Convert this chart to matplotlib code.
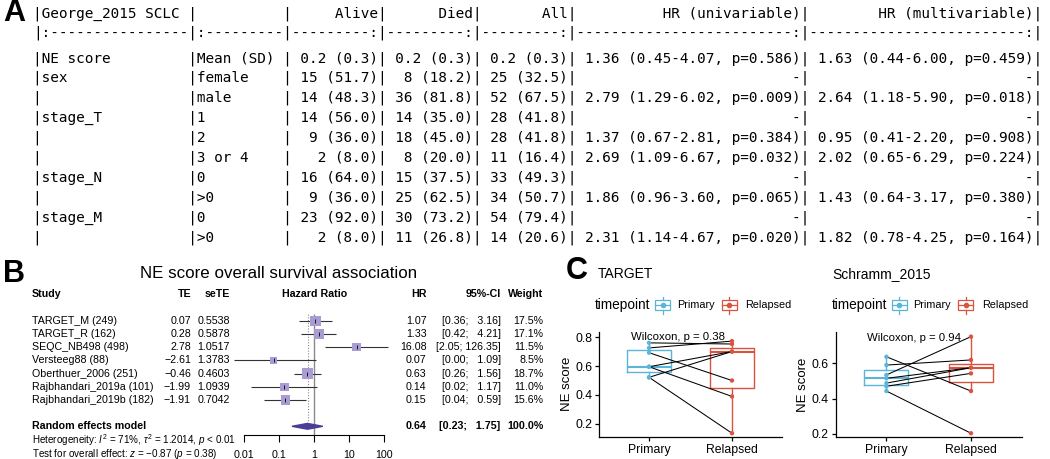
import numpy as np
import matplotlib
matplotlib.use('Agg')
import matplotlib.pyplot as plt
from matplotlib import transforms
from matplotlib.patches import Polygon, Rectangle
from matplotlib.lines import Line2D

plt.rcParams['font.family'] = ['Liberation Sans', 'DejaVu Sans']
plt.rcParams['mathtext.fontset'] = 'custom'
plt.rcParams['mathtext.rm'] = 'Liberation Sans'
plt.rcParams['mathtext.it'] = 'Liberation Sans:italic'
plt.rcParams['mathtext.bf'] = 'Liberation Sans:bold'

# ---------------- data ----------------
# A: survival table (George_2015 SCLC)
table_title = 'George_2015 SCLC'
col_heads = ['Alive', 'Died', 'All', 'HR (univariable)', 'HR (multivariable)']
var_names = ['NE score', 'sex', '', 'stage_T', '', '', 'stage_N', '', 'stage_M', '']
levels = ['Mean (SD)', 'female', 'male', '1', '2', '3 or 4', '0', '>0', '0', '>0']
alive = ['0.2 (0.3)', '15 (51.7)', '14 (48.3)', '14 (56.0)', '9 (36.0)', '2 (8.0)',
         '16 (64.0)', '9 (36.0)', '23 (92.0)', '2 (8.0)']
died = ['0.2 (0.3)', '8 (18.2)', '36 (81.8)', '14 (35.0)', '18 (45.0)', '8 (20.0)',
        '15 (37.5)', '25 (62.5)', '30 (73.2)', '11 (26.8)']
all_pts = ['0.2 (0.3)', '25 (32.5)', '52 (67.5)', '28 (41.8)', '28 (41.8)', '11 (16.4)',
           '33 (49.3)', '34 (50.7)', '54 (79.4)', '14 (20.6)']
hr_uni = ['1.36 (0.45-4.07, p=0.586)', '-', '2.79 (1.29-6.02, p=0.009)', '-',
          '1.37 (0.67-2.81, p=0.384)', '2.69 (1.09-6.67, p=0.032)', '-',
          '1.86 (0.96-3.60, p=0.065)', '-', '2.31 (1.14-4.67, p=0.020)']
hr_multi = ['1.63 (0.44-6.00, p=0.459)', '-', '2.64 (1.18-5.90, p=0.018)', '-',
            '0.95 (0.41-2.20, p=0.908)', '2.02 (0.65-6.29, p=0.224)', '-',
            '1.43 (0.64-3.17, p=0.380)', '-', '1.82 (0.78-4.25, p=0.164)']

# B: meta-analysis forest plot
studies = ['TARGET_M (249)', 'TARGET_R (162)', 'SEQC_NB498 (498)', 'Versteeg88 (88)',
           'Oberthuer_2006 (251)', 'Rajbhandari_2019a (101)', 'Rajbhandari_2019b (182)']
te = [0.07, 0.28, 2.78, -2.61, -0.46, -1.99, -1.91]
se_te = [0.5538, 0.5878, 1.0517, 1.3783, 0.4603, 1.0939, 0.7042]
hr = [1.07, 1.33, 16.08, 0.07, 0.63, 0.14, 0.15]
ci_low = [0.36, 0.42, 2.05, 0.00, 0.26, 0.02, 0.04]
ci_high = [3.16, 4.21, 126.35, 1.09, 1.56, 1.17, 0.59]
weight = [17.5, 17.1, 11.5, 8.5, 18.7, 11.0, 15.6]
pooled_hr, pooled_low, pooled_high = 0.64, 0.23, 1.75
hr_ticks = [0.01, 0.1, 1, 10, 100]

# C: paired NE score, primary vs relapsed
target_primary = [0.76, 0.725, 0.692, 0.595, 0.595, 0.522, 0.522]
target_relapsed = [0.752, 0.772, 0.50, 0.70, 0.39, 0.70, 0.136]
schramm_primary = [0.637, 0.59, 0.534, 0.515, 0.488, 0.47, 0.443]
schramm_relapsed = [0.443, 0.619, 0.751, 0.575, 0.575, 0.543, 0.204]
groups = ['Primary', 'Relapsed']

# ---------------- figure ----------------
W, H = 1050, 459
fig = plt.figure(figsize=(W / 100, H / 100), dpi=100)


def fx(x):
    return x / W


def fy(y):
    return 1 - y / H


# panel letters
for lab, x, y in [('A', 3, 13), ('B', 3, 274), ('C', 566, 271)]:
    fig.text(fx(x), fy(y), lab, fontsize=22, fontweight='bold', va='center', ha='left')

# --- A: markdown style table ---
def md_row(c):
    return ('|' + c[0].ljust(17) + '|' + c[1].ljust(10) + '|' + c[2].rjust(10) + '|'
            + c[3].rjust(10) + '|' + c[4].rjust(10) + '|' + c[5].rjust(26) + '|'
            + c[6].rjust(26) + '|')

lines = [md_row([table_title, ''] + col_heads),
         '|:' + '-' * 16 + '|:' + '-' * 9 + '|' + ('-' * 9 + ':|') * 3 + ('-' * 25 + ':|') * 2]
for i in range(len(levels)):
    lines.append(md_row([var_names[i], levels[i], alive[i], died[i], all_pts[i],
                         hr_uni[i], hr_multi[i]]))

line_y = [14, 33] + [58.3 + 19.9 * k for k in range(len(levels))]
for txt, y in zip(lines, line_y):
    fig.text(fx(33), fy(y), txt, family='DejaVu Sans Mono', fontsize=10.36,
             va='center', ha='left')

# --- B: forest plot ---
fig.text(fx(279), fy(273), 'NE score overall survival association', fontsize=12.2,
         ha='center', va='center')

axf = fig.add_axes([fx(230), fy(434.5), (395 - 230) / W, (434.5 - 300) / H])
axf.set_xscale('log')
axf.set_xlim(0.0039, 202)
axf.set_ylim(8.62, -1.57)
axf.patch.set_alpha(0)

rows = np.arange(len(studies))
te_a, se_a = np.array(te), np.array(se_te)
axf.hlines(rows, np.exp(te_a - 1.96 * se_a), np.exp(te_a + 1.96 * se_a),
           color='#333333', lw=0.8, zorder=2)
side_pt = 10.7 * np.sqrt(np.array(weight) / 18.7) * 0.72
axf.scatter(hr, rows, marker='s', s=side_pt ** 2, color='#A99CD3', edgecolors='none',
            zorder=3)
axf.scatter(hr, rows, marker='|', s=8, color='black', linewidths=0.6, zorder=4)
axf.vlines(1, -0.5, 8.62, color='#8a8a8a', lw=1.0, zorder=1)
axf.vlines(pooled_hr, -0.5, 7.6, color='#8a8a8a', lw=0.8, linestyles=(0, (1, 1.5)), zorder=1)
axf.add_patch(Polygon([(pooled_low, 8), (pooled_hr, 7.78), (pooled_high, 8), (pooled_hr, 8.22)],
                      closed=True, color='#4B3C97', zorder=3))

for s in ['left', 'right', 'top']:
    axf.spines[s].set_visible(False)
axf.spines['bottom'].set_bounds(hr_ticks[0], hr_ticks[-1])
axf.spines['bottom'].set_linewidth(0.8)
axf.set_xticks(hr_ticks)
axf.set_xticklabels([str(t) for t in hr_ticks])
axf.xaxis.set_minor_locator(matplotlib.ticker.NullLocator())
axf.tick_params(axis='x', length=5, width=0.8, pad=6, labelsize=7.7)
axf.set_yticks([])

tr = transforms.blended_transform_factory(fig.transFigure, axf.transData)
fs = 7.7


def minus(s):
    return s.replace('-', '\u2212')

head_row = -2.02
for txt, x, ha in [('Study', 31.7, 'left'), ('TE', 191.5, 'right'), ('seTE', 230, 'right'),
                   ('Hazard Ratio', 315, 'center'), ('HR', 426.7, 'right'),
                   ('95%-CI', 500.7, 'right'), ('Weight', 543.3, 'right')]:
    axf.text(fx(x), head_row, txt, transform=tr, fontsize=fs, fontweight='bold',
             ha=ha, va='center')

for i in range(len(studies)):
    axf.text(fx(31.7), i, studies[i], transform=tr, fontsize=fs, ha='left', va='center')
    axf.text(fx(191), i, minus(f'{te[i]:.2f}'), transform=tr, fontsize=fs, ha='right', va='center')
    axf.text(fx(230), i, f'{se_te[i]:.4f}', transform=tr, fontsize=fs, ha='right', va='center')
    axf.text(fx(426.7), i, f'{hr[i]:.2f}', transform=tr, fontsize=fs, ha='right', va='center')
    axf.text(fx(500.7), i, f'[{ci_low[i]:.2f}; {ci_high[i]:6.2f}]', transform=tr,
             fontsize=fs, ha='right', va='center')
    axf.text(fx(543.3), i, f'{weight[i]:.1f}%', transform=tr, fontsize=fs, ha='right', va='center')

axf.text(fx(31.7), 8, 'Random effects model', transform=tr, fontsize=fs, fontweight='bold',
         ha='left', va='center')
axf.text(fx(426.7), 8, f'{pooled_hr:.2f}', transform=tr, fontsize=fs, fontweight='bold',
         ha='right', va='center')
axf.text(fx(500.7), 8, f'[{pooled_low:.2f}; {pooled_high:6.2f}]', transform=tr, fontsize=fs,
         fontweight='bold', ha='right', va='center')
axf.text(fx(543.3), 8, '100.0%', transform=tr, fontsize=fs, fontweight='bold',
         ha='right', va='center')
axf.text(fx(31.7), 9.08, r'Heterogeneity: $I^2$ = 71%, $\tau^2$ = 1.2014, $p$ < 0.01',
         transform=tr, fontsize=7.1, ha='left', va='center')
axf.text(fx(31.7), 10.1, 'Test for overall effect: $z$ = \u22120.87 ($p$ = 0.38)',
         transform=tr, fontsize=7.1, ha='left', va='center')

# --- C: paired boxplots ---
blue, red = '#5BB5D9', '#D9533E'


def legend_key(x0, col):
    fig.add_artist(Rectangle((fx(x0), fy(310)), 15 / W, 10 / H, transform=fig.transFigure,
                             fill=False, ec=col, lw=0.9))
    xm = fx(x0 + 7.5)
    fig.add_artist(Line2D([xm, xm], [fy(296.5), fy(300)], color=col, lw=0.9))
    fig.add_artist(Line2D([xm, xm], [fy(310), fy(313.5)], color=col, lw=0.9))
    fig.add_artist(Line2D([fx(x0), fx(x0 + 15)], [fy(305), fy(305)], color=col, lw=0.9))
    fig.add_artist(Line2D([xm], [fy(305)], marker='o', ms=3, color=col, lw=0))


def paired_panel(px, py, primary, relapsed, ylim, yticks, title, title_x, ptxt, pxy, leg_x):
    ax = fig.add_axes([fx(px[0]), fy(py[1]), (px[1] - px[0]) / W, (py[1] - py[0]) / H])
    for a, b in zip(primary, relapsed):
        ax.plot([1, 2], [a, b], color='black', lw=0.75, zorder=3)
    for pos, vals, col in [(1, primary, blue), (2, relapsed, red)]:
        ax.boxplot([vals], positions=[pos], widths=0.52, showfliers=False, showcaps=False,
                   boxprops=dict(color=col, lw=1.0), whiskerprops=dict(color=col, lw=1.0),
                   medianprops=dict(color=col, lw=1.5), manage_ticks=False, zorder=2)
        ax.scatter([pos] * len(vals), vals, s=10, color=col, edgecolors='none', zorder=4)
    ax.set_xlim(0.4, 2.6)
    ax.set_ylim(*ylim)
    ax.set_xticks([1, 2])
    ax.set_xticklabels(groups)
    ax.set_yticks(yticks)
    ax.set_yticklabels([f'{t:.1f}' for t in yticks])
    ax.tick_params(length=2.75, width=0.9, pad=2.2, labelsize=8.8, colors='black')
    for s in ['top', 'right']:
        ax.spines[s].set_visible(False)
    for s in ['left', 'bottom']:
        ax.spines[s].set_linewidth(0.9)
    ax.text(pxy[0], pxy[1], ptxt, fontsize=8.2, ha='left', va='center')
    fig.text(fx(px[0] - 32.6), fy((py[0] + py[1]) / 2), 'NE score', rotation=90,
             fontsize=9.5, ha='center', va='center')
    fig.text(fx(title_x), fy(274), title, fontsize=10, ha='left', va='center')
    # legend
    fig.text(fx(leg_x), fy(305), 'timepoint', fontsize=9.8, ha='left', va='center')
    legend_key(leg_x + 60, blue)
    fig.text(fx(leg_x + 81.7), fy(305), groups[0], fontsize=7.8, ha='left', va='center')
    legend_key(leg_x + 126.7, red)
    fig.text(fx(leg_x + 150), fy(305), groups[1], fontsize=7.8, ha='left', va='center')
    return ax


paired_panel((599.3, 781.7), (331.7, 436.7), target_primary, target_relapsed,
             (0.112, 0.837), [0.2, 0.4, 0.6, 0.8], 'TARGET', 598,
             'Wilcoxon, p = 0.38', (0.78, 0.798), 595)
paired_panel((835.7, 1021.7), (331.7, 437.3), schramm_primary, schramm_relapsed,
             (0.181, 0.779), [0.2, 0.4, 0.6], 'Schramm_2015', 832,
             'Wilcoxon, p = 0.94', (0.774, 0.742), 831.7)

fig.savefig('out.png', dpi=100)
